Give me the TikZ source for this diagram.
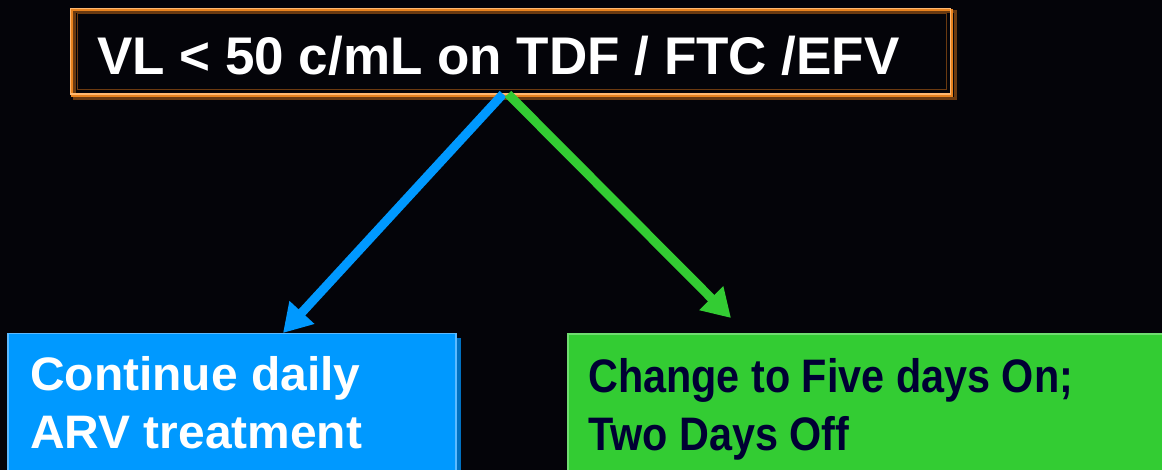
\documentclass[tikz,border=0pt]{standalone}
\usepackage{fontspec}
\setmainfont{Liberation Sans}
\usetikzlibrary{arrows.meta}
\definecolor{bg}{HTML}{040409}
\definecolor{frameLight}{HTML}{FFB870}
\definecolor{frameMid}{HTML}{E8821E}
\definecolor{frameDark}{HTML}{6B3A10}
\definecolor{boxBlue}{HTML}{0099FF}
\definecolor{edgeBlue}{HTML}{5CBAFF}
\definecolor{shadeBlue}{HTML}{0070C0}
\definecolor{boxGreen}{HTML}{33CC33}
\definecolor{edgeGreen}{HTML}{70DC70}
\definecolor{inkNavy}{HTML}{000033}
\tikzset{
  headline/.style={anchor=base west, inner sep=0pt, text=white,
    font=\fontsize{53}{60}\selectfont\bfseries},
  blueline/.style={anchor=base west, inner sep=0pt, text=white,
    font=\fontsize{47}{54}\selectfont\bfseries},
  greenline/.style={anchor=base west, inner sep=0pt, text=inkNavy,
    font=\fontsize{47}{54}\selectfont\bfseries},
  flow/.style={line width=9pt, -{Triangle[length=28pt,width=32pt]}},
}
\begin{document}
\begin{tikzpicture}[x=1pt,y=-1pt]
  % canvas
  \fill[bg] (0,0) rectangle (1162,470);
  \useasboundingbox (0,0) rectangle (1162,470);

  % framed title box
  \draw[frameDark, line width=3pt] (74,12) rectangle (955,99);
  \draw[frameMid, line width=2.5pt] (72,10) rectangle (952,96);
  \draw[frameLight, line width=1.5pt] (70.5,8.5) rectangle (950.5,94);
  \draw[frameDark, line width=1pt] (77,14) rectangle (946,90);
  \node[headline] (title) at (97,75) {VL < 50 c/mL on TDF / FTC /EFV};

  % left outcome box
  \fill[shadeBlue] (12,338) rectangle (461,475);
  \node[fill=boxBlue, draw=edgeBlue, line width=1.5pt, anchor=north west,
        minimum width=448pt, minimum height=145pt, inner sep=0pt]
        (keep) at (7,333) {};
  \node[blueline] (keepA) at (30,390) {\scalebox{1.02}[1]{Continue daily}};
  \node[blueline] (keepB) at (30,448) {\scalebox{1.02}[1]{ARV treatment}};

  % right outcome box
  \node[fill=boxGreen, draw=edgeGreen, line width=2pt, anchor=north west,
        minimum width=610pt, minimum height=150pt, inner sep=0pt]
        (switch) at (567,333) {};
  \node[greenline] (switchA) at (588,392) {\scalebox{0.88}[1]{Change to Five days On;}};
  \node[greenline] (switchB) at (588,450) {\scalebox{0.88}[1]{Two Days Off}};

  % branching arrows
  \coordinate (forkL) at (503,94);
  \coordinate (forkR) at (508,94);
  \coordinate (tipL) at (283,333);
  \coordinate (tipR) at (731,318);
  \draw[flow, boxBlue] (forkL) -- (tipL);
  \draw[flow, boxGreen] (forkR) -- (tipR);
\end{tikzpicture}
\end{document}
